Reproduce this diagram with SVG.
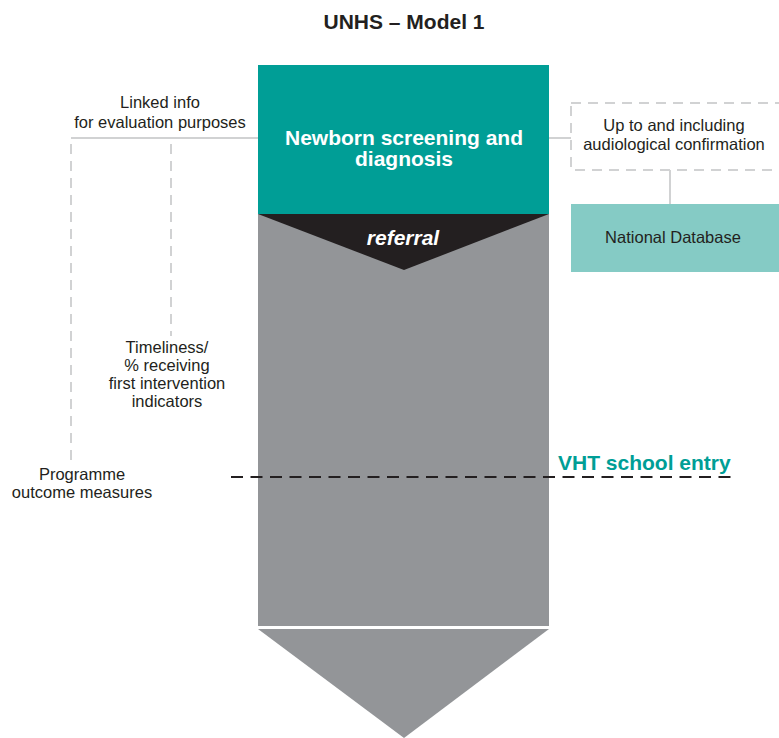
<svg xmlns="http://www.w3.org/2000/svg" width="779" height="738" viewBox="0 0 779 738">
<style>
.t{font-family:"Liberation Sans",Arial,sans-serif;fill:#231F20;text-anchor:middle}
.s{font-size:16.5px}
.b{font-weight:bold;font-size:21px}
.w{fill:#fff}
.ln{stroke:#d1d2d3;stroke-width:2;fill:none}
.dl{stroke:#d1d2d3;stroke-width:2;fill:none;stroke-dasharray:10 7}
</style>
<rect width="779" height="738" fill="#fff"/>
<text class="t b" x="404" y="29">UNHS – Model 1</text>
<g id="pathway">
<rect x="258" y="214" width="291" height="412" fill="#939598"/>
<polygon points="258,629 549,629 404,738" fill="#939598"/>
</g>
<g id="connectors">
<path class="ln" d="M71 138H258"/>
<path class="dl" d="M71 144V462"/>
<path class="dl" d="M171 144V336"/>
<path class="ln" d="M549 138H571"/>
<path class="ln" d="M670 170V204"/>
<path d="M231 477H736" stroke="#231F20" stroke-width="2" stroke-dasharray="12 7.5" fill="none"/>
</g>
<g id="newborn">
<rect x="258" y="65" width="291" height="149" fill="#009E96"/>
<text class="t b w" x="404" y="145">Newborn screening and</text>
<text class="t b w" x="404" y="166">diagnosis</text>
</g>
<g id="referral">
<polygon points="258,214 549,214 404,270" fill="#231F20"/>
<text class="t b w" x="403" y="245" font-style="italic">referral</text>
</g>
<g id="linked">
<text class="t s" x="160" y="108">Linked info</text>
<text class="t s" x="160" y="128">for evaluation purposes</text>
</g>
<g id="upto">
<rect x="571" y="103" width="220" height="67" fill="none" stroke="#d1d2d3" stroke-width="2" stroke-dasharray="10 7"/>
<text class="t s" x="674" y="131">Up to and including</text>
<text class="t s" x="674" y="150">audiological confirmation</text>
</g>
<g id="national">
<rect x="571" y="204" width="210" height="68" fill="#85CBC5"/>
<text class="t s" x="673" y="243">National Database</text>
</g>
<g id="timeliness">
<text class="t s" x="167" y="353">Timeliness/</text>
<text class="t s" x="167" y="371">% receiving</text>
<text class="t s" x="167" y="389">first intervention</text>
<text class="t s" x="167" y="407">indicators</text>
</g>
<g id="programme">
<text class="t s" x="82" y="480">Programme</text>
<text class="t s" x="82" y="498">outcome measures</text>
</g>
<g id="vht">
<text class="t b" x="558" y="470" style="text-anchor:start;fill:#009E96">VHT school entry</text>
</g>
</svg>
